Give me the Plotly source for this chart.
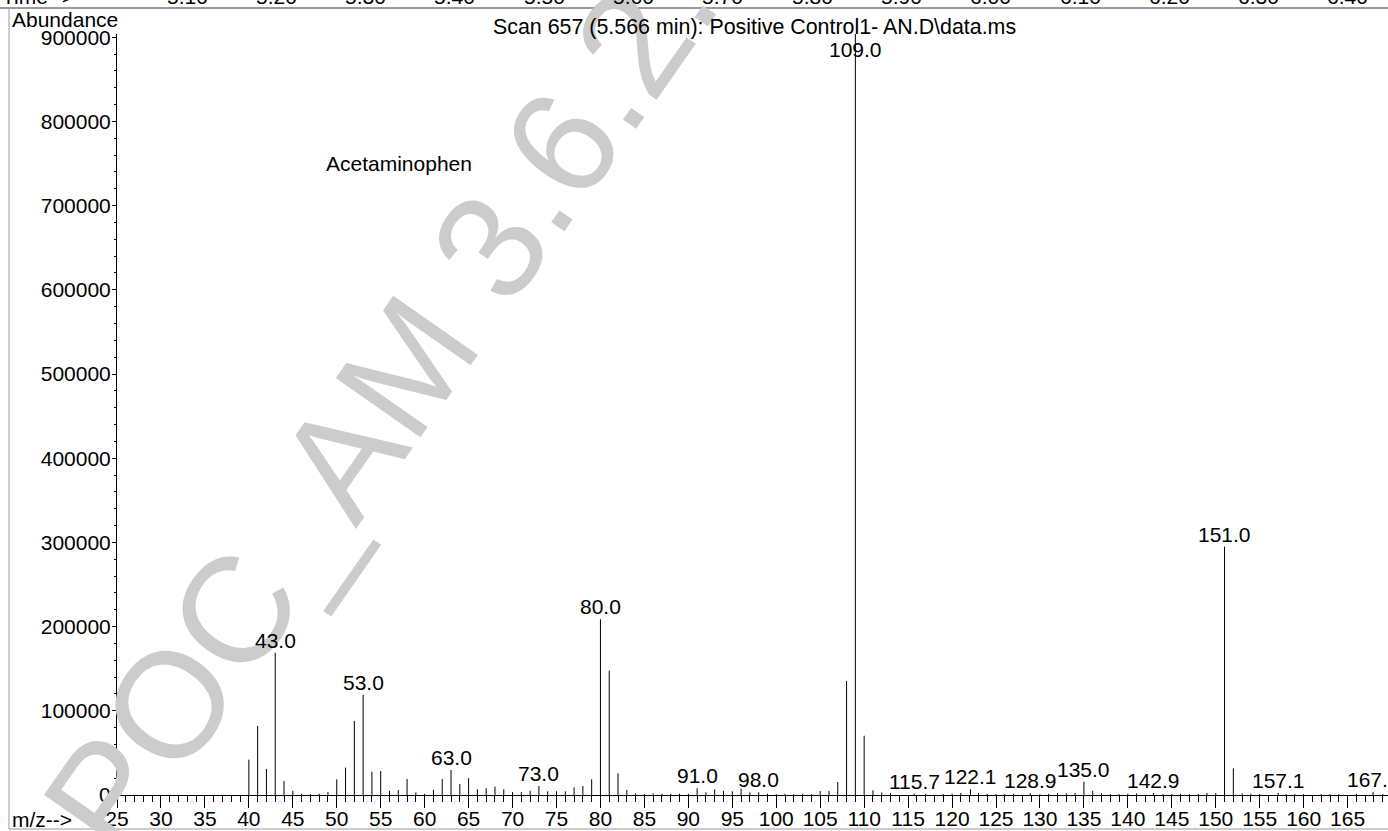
import plotly.graph_objects as go

# ---------------- data ----------------
mz = [40, 41, 42, 43, 44, 45, 46, 47, 48, 49,
      50, 51, 52, 53, 54, 55, 56, 57, 58, 59,
      60, 61, 62, 63, 64, 65, 66, 67, 68, 69,
      70, 71, 72, 73, 74, 75, 76, 77, 78, 79,
      80, 81, 82, 83, 84, 85, 86, 87, 88, 89,
      90, 91, 92, 93, 94, 95, 96, 97, 98, 99,
      100, 101, 102, 103, 104, 105, 106, 107, 108, 109,
      110, 111, 112, 113, 115.7, 117, 119, 120, 121, 122.1,
      123, 124, 125, 126, 127, 128.9, 130, 131, 132, 133,
      134, 135, 136, 137, 138, 139, 140, 141, 142.9, 144,
      145, 146, 147, 148, 149, 150, 151, 152, 153, 154,
      155, 157.1, 158, 159, 160, 162, 163, 164, 166, 167.9, 169]
abundance = [42000, 82000, 31000, 169000, 16600, 5000, 1500, 1000, 1500, 3500,
             18600, 32500, 88000, 119000, 27700, 28500, 5000, 6000, 19000, 3200,
             1500, 6000, 19000, 29700, 13000, 20000, 6800, 8000, 10000, 6800,
             3500, 3500, 5000, 10700, 4400, 4400, 4400, 9100, 10700, 18600,
             208700, 147700, 25800, 6000, 2000, 1000, 2000, 1500, 1500, 1500,
             1500, 8000, 3200, 6800, 5000, 4400, 7500, 3200, 3200, 1500,
             1000, 1500, 1000, 1500, 1000, 4800, 4800, 15400, 135500, 905000,
             70400, 5600, 3000, 2000, 1500, 1500, 1000, 1500, 2500, 6800,
             2500, 1500, 1000, 1000, 1500, 2000, 1000, 1500, 2500, 2000,
             2500, 15800, 5000, 2000, 1000, 1000, 1500, 2000, 2500, 1000,
             1000, 1500, 1000, 1500, 2500, 2500, 295000, 31700, 2000, 1500,
             1000, 2500, 1000, 1000, 1000, 1000, 1000, 1000, 1500, 3500, 1000]
labeled_mz = [43, 53, 63, 73, 80, 91, 98, 109, 115.7, 122.1, 128.9, 135,
              142.9, 151, 157.1, 167.9]
x_ticks = list(range(25, 170, 5))
y_ticks = list(range(0, 900001, 100000))
time_labels = ["5.10", "5.20", "5.30", "5.40", "5.50", "5.60", "5.70",
               "5.80", "5.90", "6.00", "6.10", "6.20", "6.30", "6.40"]

title_text = "Scan 657 (5.566 min): Positive Control1- AN.D\\data.ms"
compound = "Acetaminophen"
watermark = "POC_AM 3.6.2."

# ---------------- layout geometry ----------------
W, H = 1388, 831
L, R, T, B = 117, 0, 34, 36
PW, PH = W - L - R, H - T - B
PX_PER_MZ = 8.79
PX_PER_ABUND = 84.2 / 100000
X_RANGE = [25, 25 + PW / PX_PER_MZ]
Y_RANGE = [0, PH / PX_PER_ABUND]
LABEL_CAP = (795 - 62) / PX_PER_ABUND  # labels never go above this

FONT = "Liberation Sans, Arial, Helvetica, sans-serif"
FS = 21


def px(xp):
    return (xp - L) / PW


def py(yp):
    return (H - B - yp) / PH


# ---------------- peaks ----------------
xs, ys = [], []
for m, a in zip(mz, abundance):
    xs += [m, m, None]
    ys += [0, a, None]

fig = go.Figure()
fig.add_trace(go.Scatter(x=xs, y=ys, mode="lines",
                         line=dict(color="black", width=1),
                         hoverinfo="skip", showlegend=False,
                         cliponaxis=True))

# watermark first so that the black labels are drawn over it
annotations = [dict(x=px(380), y=py(404), xref="paper", yref="paper",
                    text=watermark, showarrow=False, textangle=-55,
                    xanchor="center", yanchor="middle",
                    font=dict(family=FONT, size=150,
                              color="rgb(204,204,204)"))]

abund_of = dict(zip(mz, abundance))
for m in labeled_mz:
    a = abund_of[m]
    annotations.append(dict(x=m, y=min(a, LABEL_CAP), xref="x", yref="y",
                            text=f"{m:.1f}", showarrow=False,
                            xanchor="center", yanchor="bottom", yshift=-1,
                            font=dict(family=FONT, size=FS, color="black")))

annotations += [
    dict(x=px(754), y=py(27), xref="paper", yref="paper", text=title_text,
         showarrow=False, xanchor="center", yanchor="middle",
         font=dict(family=FONT, size=21.4, color="black")),
    dict(x=px(10), y=py(20), xref="paper", yref="paper", text="Abundance",
         showarrow=False, xanchor="left", yanchor="middle",
         font=dict(family=FONT, size=FS, color="black")),
    dict(x=px(10), y=py(819), xref="paper", yref="paper", text="m/z-->",
         showarrow=False, xanchor="left", yanchor="middle",
         font=dict(family=FONT, size=FS, color="black")),
    dict(x=px(399), y=py(163), xref="paper", yref="paper", text=compound,
         showarrow=False, xanchor="center", yanchor="middle",
         font=dict(family=FONT, size=FS, color="black")),
    dict(x=px(0), y=py(-3.5), xref="paper", yref="paper", text="Time-->",
         showarrow=False, xanchor="left", yanchor="middle",
         font=dict(family=FONT, size=FS, color="black")),
]
for i, t in enumerate(time_labels):
    annotations.append(dict(x=px(187 + i * 89.3), y=py(-3.5), xref="paper",
                            yref="paper", text=t, showarrow=False,
                            xanchor="center", yanchor="middle",
                            font=dict(family=FONT, size=FS, color="black")))

shapes = [
    dict(type="line", xref="paper", yref="paper", x0=px(0), x1=px(W),
         y0=py(8), y1=py(8), line=dict(color="#777777", width=1.5)),
    dict(type="line", xref="paper", yref="paper", x0=px(9), x1=px(9),
         y0=py(8), y1=py(829), line=dict(color="#999999", width=1)),
    dict(type="line", xref="paper", yref="paper", x0=px(9), x1=px(W),
         y0=py(829), y1=py(829), line=dict(color="#999999", width=1)),
]

fig.update_layout(
    width=W, height=H,
    margin=dict(l=L, r=R, t=T, b=B, pad=0),
    paper_bgcolor="white", plot_bgcolor="white",
    showlegend=False, hovermode=False,
    annotations=annotations, shapes=shapes,
    font=dict(family=FONT, size=FS, color="black"),
)
fig.update_xaxes(
    range=X_RANGE, showgrid=False, zeroline=False,
    showline=True, linecolor="black", linewidth=1,
    tickmode="array", tickvals=x_ticks, ticktext=[str(v) for v in x_ticks],
    ticks="outside", ticklen=12, tickwidth=1, tickcolor="black",
    ticklabelstandoff=-7,
    minor=dict(dtick=1, tick0=25, ticks="outside", ticklen=6,
               tickwidth=1, tickcolor="black"),
    tickfont=dict(family=FONT, size=FS, color="black"),
    automargin=False,
)
fig.update_yaxes(
    range=Y_RANGE, showgrid=False, zeroline=False,
    showline=True, linecolor="black", linewidth=1,
    tickmode="array", tickvals=y_ticks, ticktext=[str(v) for v in y_ticks],
    ticks="outside", ticklen=4, tickwidth=1, tickcolor="black",
    ticklabelstandoff=-3,
    minor=dict(dtick=20000, tick0=0, ticks="outside", ticklen=2,
               tickwidth=1, tickcolor="black"),
    tickfont=dict(family=FONT, size=FS, color="black"),
    automargin=False,
)

fig.write_html(
    "out.html",
    config={"displayModeBar": False, "staticPlot": True},
    post_script="document.body.style.margin='0';"
                "document.body.style.overflow='hidden';",
)
